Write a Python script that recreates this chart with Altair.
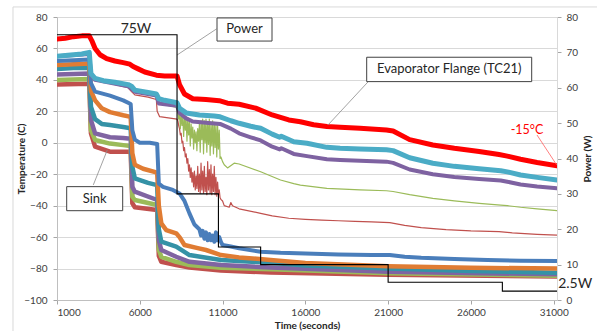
import altair as alt
import pandas as pd

# ---------------- data ----------------
X_TICKS = [1000, 6000, 11000, 16000, 21000, 26000, 31000]
T_TICKS = [-100, -80, -60, -40, -20, 0, 20, 40, 60, 80]
P_TICKS = [0, 10, 20, 30, 40, 50, 60, 70, 80]

# Evaporator flange TC21 (thick red)
RED_T = [1000, 1500, 2000, 2500, 2950, 3100, 3300, 3600, 4000, 4500, 5000, 5400, 5600, 5900, 6300,
         7000, 7500, 8250, 8400, 8700, 9200, 10000, 10800, 11300, 12000, 13000, 14000, 15000, 15700,
         16500, 17300, 18100, 19300, 20900, 21300, 22300, 23700, 25000, 26500, 27700, 28200, 29000,
         30000, 31200]
RED_V = [66, 66.5, 67.5, 68, 68, 65, 60, 56, 53.5, 52, 51, 50, 48.5, 47, 45,
         43, 42.5, 42.5, 37, 31, 28, 27.5, 26.8, 25.2, 24.5, 22, 17.7, 14.5, 13.4,
         11.5, 10.3, 9.8, 9.2, 8.1, 7.5, 2, -1.4, -3.5, -5.5, -7.5, -8.5, -10.5,
         -12.5, -14.6]

# thick light blue
CYAN_T = [1000, 1500, 2000, 2500, 2950, 3050, 3300, 3800, 4500, 5300, 5500, 5700, 6500, 7000, 7150,
          7500, 8250, 8400, 8800, 9600, 10500, 10850, 11500, 12000, 12700, 13300, 14000, 14450, 14550,
          15300, 16100, 17300, 18100, 19300, 20900, 21300, 22300, 23700, 25000, 26500, 27800, 28200,
          29000, 30000, 31200]
CYAN_V = [55, 55.5, 56, 56.5, 57.5, 44, 41, 39.5, 38.5, 37, 36, 33.5, 32, 31, 28,
          27, 25.5, 22, 19, 17.7, 17, 16.5, 14, 12.4, 10.5, 9.2, 5.5, 3.5, 4.2,
          0.7, -0.3, -2.9, -3.5, -4, -4.5, -5, -9.5, -13, -15, -16.5, -17.8, -18.5,
          -20.5, -22, -23.7]

# thick purple
PURP_T = [1000, 2950, 3050, 3300, 5300, 5700, 7000, 7150, 8250, 8400, 8800, 9200, 10000, 10850, 11500,
          12000, 12700, 13300, 14000, 14450, 14550, 15300, 16100, 17300, 18100, 19300, 20900, 21300,
          22300, 23700, 25000, 26500, 27800, 28200, 29000, 30000, 31200]
PURP_V = [55, 56.5, 43, 40, 36, 32.5, 30, 25, 23.5, 19, 15.5, 13.5, 12.8, 12, 9,
          6, 3.5, 1.5, -2.5, -4.2, -3.5, -7.1, -8.5, -10.5, -11, -11.5, -12, -12.8,
          -17, -20, -21.8, -23, -24, -24.8, -26.5, -27.8, -29]

# thin green (upper group): before, scattered part, after
GRNU_HEAD = [(1000, 55), (2950, 56.5), (3050, 43), (3300, 40), (5300, 36), (5700, 32.5),
             (7000, 30), (7150, 25), (8250, 22.5)]
GRNU_NOISE = [(8300, 20), (8350, 15), (8400, 19), (8450, 9), (8500, 18), (8550, 11), (8600, 16),
              (8650, 4), (8700, 17), (8750, 8), (8800, 15), (8850, 1), (8900, 16), (8950, 5),
              (9000, 13), (9050, -2), (9100, 12), (9150, 3), (9200, 10), (9250, -4), (9300, 8),
              (9350, 0), (9400, 7), (9450, -5), (9500, 9), (9550, 1), (9600, 12), (9650, -6),
              (9700, 14), (9750, 2), (9800, 15), (9850, -7), (9900, 14), (9950, 0), (10000, 15),
              (10050, -6), (10100, 13), (10150, -1), (10200, 15), (10250, -8), (10300, 12),
              (10350, -2), (10400, 14), (10450, -7), (10500, 13), (10550, -3), (10600, 12),
              (10650, -9), (10700, 11), (10750, -4), (10800, 8), (10850, -10), (10900, -9)]
GRNU_TAIL = [(11000, -12), (11100, -14), (11300, -16), (11700, -13), (12000, -13.5), (13300, -18.4),
             (14500, -23.7), (15300, -26), (15700, -26.9), (17300, -29), (19300, -30), (20900, -30.5),
             (21300, -31), (22300, -33), (23700, -35.4), (25000, -37), (26500, -38.5), (27800, -39.6),
             (28200, -40), (29000, -41), (30000, -42), (31200, -43.2)]

# thin dark red (upper group)
REDU_HEAD = [(1000, 55), (2950, 56.5), (3050, 43), (3300, 40), (5300, 35), (5500, 32.5),
             (5700, 30.5), (6500, 29), (7000, 27.5), (7050, 20), (7200, 16.6), (8250, 15)]
REDU_NOISE = [(8300, 14), (8350, 11), (8400, 9), (8450, 5), (8500, 6), (8550, 0), (8600, 1),
              (8650, -5), (8700, -3), (8750, -9), (8800, -7), (8850, -13), (8900, -10), (8950, -18),
              (9000, -14), (9050, -22), (9100, -16), (9150, -25), (9200, -19), (9250, -28),
              (9300, -18), (9350, -30), (9400, -21), (9450, -29), (9500, -15), (9550, -31),
              (9600, -20), (9650, -32), (9700, -13), (9750, -30), (9800, -18), (9850, -32),
              (9900, -15), (9950, -31), (10000, -22), (10050, -33), (10100, -12), (10150, -30),
              (10200, -17), (10250, -32), (10300, -14), (10350, -33), (10400, -20), (10450, -31),
              (10500, -15), (10550, -33), (10600, -22), (10650, -34), (10700, -25), (10750, -33),
              (10800, -30), (10850, -35), (10900, -36)]
REDU_TAIL = [(11000, -37), (11100, -40), (11400, -41), (11500, -38), (11600, -40), (12000, -42),
             (13300, -44.9), (14000, -46.5), (15000, -48), (16000, -48.7), (17000, -49.2),
             (18000, -49.6), (19000, -50), (20000, -50.3), (21100, -50.8), (22000, -52.5),
             (23000, -54), (24500, -55.2), (26000, -56), (27700, -56.5), (28500, -57.3),
             (30000, -58.2), (31200, -58.7)]

# sink group
BLUE_T = [1000, 2000, 2950, 3050, 3300, 4200, 5000, 5450, 5550, 5700, 6000, 6600, 7050, 7150, 7400,
          8000, 8400, 8700, 9000, 9300, 9600, 9700, 9800, 9900, 10000, 10100, 10200, 10300, 10400,
          10500, 10600, 10700, 10800, 10900, 11000, 11500, 12000, 13300, 14500, 16000, 18000, 20000,
          21100, 22000, 23000, 25000, 27000, 29000, 31200]
BLUE_V = [52, 52.5, 53, 38, 32.5, 30, 27, 24.7, 8, 2, 0, 0, -0.8, -26, -28,
          -30, -32.2, -37, -44.9, -52, -55, -59, -56, -61, -57, -62, -58, -62, -59,
          -63, -57, -62, -60, -63, -65, -66, -67.1, -69.3, -70, -70.5, -71, -71.4,
          -71.4, -72.5, -73.2, -74, -74.5, -75, -75.2]

ORNG_T = [1000, 2000, 2950, 3050, 3300, 3700, 4200, 5000, 5450, 5550, 5700, 6200, 7050, 7150, 7300,
          7600, 8200, 8400, 8700, 9500, 10000, 10900, 12000, 13900, 16000, 21000, 26000, 31200]
ORNG_V = [49.5, 50, 50.5, 33, 27, 22, 19.5, 17.5, 16.5, -6.7, -14, -16.5, -19, -40, -51.3,
          -55.5, -57.6, -60, -65, -67, -68.2, -71.4, -72.9, -74.5, -76.5, -78.5, -79.5, -80]

TEAL_T = [1000, 2000, 2950, 3050, 3300, 3700, 4200, 5000, 5450, 5550, 5700, 6500, 7050, 7150, 7300,
          8200, 9000, 10900, 13900, 16000, 21000, 26000, 31200]
TEAL_V = [47, 47.5, 47.5, 23, 15, 12, 11.3, 10, 9.2, -15.2, -22.6, -25.5, -26.9, -55, -62.9,
          -66, -71.4, -74.6, -76.3, -78, -80, -81.5, -82.6]

LOW_T = [1000, 2950, 3050, 3300, 4200, 5000, 5450, 5550, 5700, 7050, 7150, 7300, 8200, 9000,
         10900, 13900, 21000, 31200]
PURL_V = [43.5, 44, 14.5, 6, 3.5, 3, 2.5, -27.9, -31.1, -36.4, -62, -68.2, -72.5, -75.7,
          -77.8, -79.3, -82, -83.7]
GRNL_V = [40, 40.5, 8, 1.8, -0.5, -1.5, -2, -34.3, -36.4, -39.6, -68, -72.5, -75.7, -77.8,
          -79.5, -80.4, -83, -84.5]
REDL_V = [37, 37.5, 6, -2.5, -5.7, -5.7, -5.7, -38.5, -41, -42.8, -72, -75.7, -77.8, -79.3,
          -81.3, -82.5, -84, -85]

# heater power (step)
POW_T = [1000, 8250, 10750, 13300, 21000, 27900, 31200]
POW_W = [75, 30, 15, 10, 5, 2.5, 2.5]

# annotation boxes (data coordinates)
BOX_TEXT = ["Power", "Evaporator Flange (TC21)", "Sink"]
BOX_T0 = [10664, 19706, 1586]
BOX_T1 = [13986, 29672, 4968]
BOX_V0 = [79.4, 54.4, -27.9]
BOX_V1 = [64.7, 38.9, -43.2]
LEAD_T0 = [10634, 19784, 3193]
LEAD_V0 = [72.4, 38.7, -26.8]
LEAD_T1 = [8248, 17368, 4038]
LEAD_V1 = [55.8, 11.3, -4.6]

# ---------------- chart ----------------
FONT = "Lato"
x_scale = alt.Scale(domain=[1000, 31200], nice=False, zero=False)
t_scale = alt.Scale(domain=[-100, 80], nice=False, zero=False)
p_scale = alt.Scale(domain=[0, 80], nice=False, zero=False)

x_axis = alt.Axis(values=X_TICKS, grid=False, title="Time (seconds)", format="d",
                  labelFont=FONT, labelFontSize=10, labelColor="#404040", labelPadding=3,
                  tickSize=4, tickColor="#A6A6A6", domainColor="#BFBFBF",
                  titleFont=FONT, titleFontSize=10, titleFontWeight="bold", titleColor="#262626",
                  titleX=250, titleY=25, titleAlign="center", titleBaseline="middle")
y_axis = alt.Axis(values=T_TICKS, grid=True, gridColor="#D9D9D9", title="Temperature (C)",
                  labelFont=FONT, labelFontSize=10, labelColor="#404040", labelPadding=6,
                  tickSize=4, tickColor="#A6A6A6", domainColor="#BFBFBF",
                  titleFont=FONT, titleFontSize=10, titleFontWeight="bold", titleColor="#262626",
                  titleAngle=270, titleX=-36, titleY=141.5, titleAlign="center",
                  titleBaseline="middle")
p_axis = alt.Axis(values=P_TICKS, grid=False, orient="right", title="Power (W)",
                  labelFont=FONT, labelFontSize=10, labelColor="#404040", labelPadding=5,
                  tickSize=4, tickColor="#A6A6A6", domainColor="#D9D9D9",
                  titleFont=FONT, titleFontSize=10, titleFontWeight="bold", titleColor="#262626",
                  titleAngle=270, titleX=30, titleY=141.5, titleAlign="center",
                  titleBaseline="middle")


def X(field):
    return alt.X(field, scale=x_scale, axis=x_axis)


def Y(field):
    return alt.Y(field, scale=t_scale, axis=y_axis)


def series(ts, vs, color, width):
    df = pd.DataFrame({"t": ts, "T": vs})
    return alt.Chart(df).mark_line(color=color, strokeWidth=width, strokeJoin="round",
                                   strokeCap="round", clip=True).encode(
        x=X("t:Q"), y=Y("T:Q"), order="t:Q")


def pairs(*parts):
    pts = [p for part in parts for p in part]
    return [p[0] for p in pts], [p[1] for p in pts]


GRNU_T, GRNU_V = pairs(GRNU_HEAD, GRNU_NOISE, GRNU_TAIL)
REDU_T, REDU_V = pairs(REDU_HEAD, REDU_NOISE, REDU_TAIL)

lines = [
    series(LOW_T, REDL_V, "#C0504D", 4.5),
    series(LOW_T, GRNL_V, "#9BBB59", 4.5),
    series(LOW_T, PURL_V, "#8064A2", 4.5),
    series(TEAL_T, TEAL_V, "#3592A6", 4.5),
    series(ORNG_T, ORNG_V, "#E07C33", 4.5),
    series(BLUE_T, BLUE_V, "#4A7EBB", 4),
    series(REDU_T, REDU_V, "#C0504D", 1.2),
    series(GRNU_T, GRNU_V, "#9BBB59", 1.2),
    series(PURP_T, PURP_V, "#7E62A1", 4),
    series(CYAN_T, CYAN_V, "#4BACC6", 5),
    series(RED_T, RED_V, "#FF0000", 5),
]

box_df = pd.DataFrame({"label": BOX_TEXT, "t0": BOX_T0, "t1": BOX_T1, "v0": BOX_V0, "v1": BOX_V1})
box_df["tc"] = (box_df["t0"] + box_df["t1"]) / 2
box_df["vc"] = (box_df["v0"] + box_df["v1"]) / 2
lead_df = pd.DataFrame({"t0": LEAD_T0, "v0": LEAD_V0, "t1": LEAD_T1, "v1": LEAD_V1})

leaders = alt.Chart(lead_df).mark_rule(color="#8C8C8C", strokeWidth=0.8).encode(
    x=X("t0:Q"), x2="t1:Q", y=Y("v0:Q"), y2="v1:Q")
boxes = alt.Chart(box_df).mark_rect(fill="white", stroke="#404040", strokeWidth=1).encode(
    x=X("t0:Q"), x2="t1:Q", y=Y("v0:Q"), y2="v1:Q")
box_text = alt.Chart(box_df).mark_text(font=FONT, fontSize=13, color="#262626",
                                       align="center", baseline="middle").encode(
    x=X("tc:Q"), y=Y("vc:Q"), text="label:N")

free_df = pd.DataFrame({"label": ["75W", "-15\u00b0C"], "t": [5772, 29388], "v": [72.6, 8.1],
                        "c": ["#262626", "#FF0000"], "s": [14, 12.5]})
free_text = alt.Chart(free_df).mark_text(font=FONT, align="center", baseline="middle").encode(
    x=X("t:Q"), y=Y("v:Q"), text="label:N",
    color=alt.Color("c:N", scale=None), size=alt.Size("s:Q", scale=None))
w_text = alt.Chart(pd.DataFrame({"label": ["2.5W"], "t": [31270], "v": [-89.6]})).mark_text(
    font=FONT, fontSize=14, color="#262626", align="left", baseline="middle").encode(
    x=X("t:Q"), y=Y("v:Q"), text="label:N")
red_lead = alt.Chart(pd.DataFrame({"t0": [29992], "v0": [4.95], "t1": [31182], "v1": [-14.1]})).mark_rule(
    color="#FF6060", strokeWidth=0.8).encode(
    x=X("t0:Q"), x2="t1:Q", y=Y("v0:Q"), y2="v1:Q")

# outer chart-area frame (top and left edges)
frame_df = pd.DataFrame({"t0": [-1658, -1658], "t1": [40000, -1658], "v0": [86.4, 86.4], "v1": [86.4, -140]})
frame = alt.Chart(frame_df).mark_rule(color="#D9D9D9", strokeWidth=1).encode(
    x=X("t0:Q"), x2="t1:Q", y=Y("v0:Q"), y2="v1:Q")

temp_layer = alt.layer(*lines, frame, leaders, red_lead, boxes, box_text, free_text, w_text)

power = alt.Chart(pd.DataFrame({"t": POW_T, "P": POW_W})).mark_line(
    color="#000000", strokeWidth=1.1, interpolate="step-after", clip=True).encode(
    x=X("t:Q"),
    y=alt.Y("P:Q", scale=p_scale, axis=p_axis))

chart = alt.layer(temp_layer, power).resolve_scale(y="independent").properties(
    width=500, height=283, autosize="none",
    padding={"left": 57, "top": 17, "right": 40, "bottom": 31},
    background="white",
).configure_view(strokeWidth=0)

chart.save("out.html", embed_options={"renderer": "svg", "actions": False})
